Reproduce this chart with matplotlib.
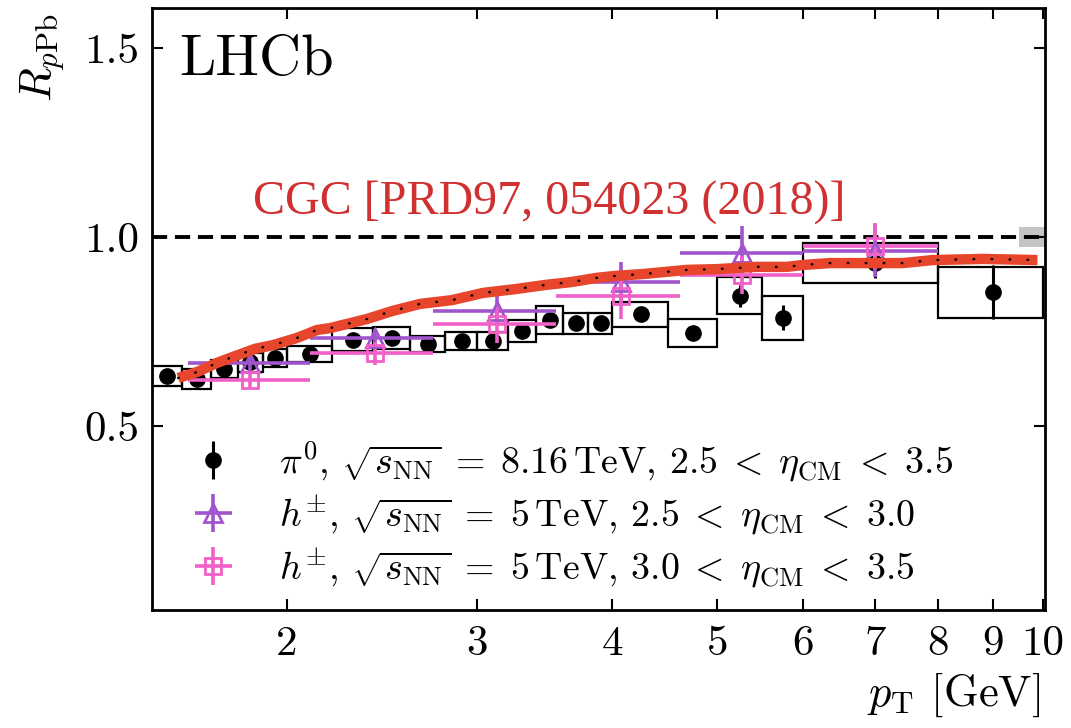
import matplotlib
matplotlib.use("Agg")
import matplotlib.pyplot as plt
from matplotlib.patches import Rectangle
from matplotlib.ticker import FixedLocator, FixedFormatter, NullLocator
import numpy as np

# pi0 nuclear modification factor, sqrt(sNN) = 8.16 TeV, 2.5 < eta_CM < 3.5
pi0_edges = [1.5, 1.6, 1.7, 1.8, 1.9, 2.0, 2.2, 2.4, 2.6, 2.8, 3.0, 3.2,
             3.4, 3.6, 3.8, 4.0, 4.5, 5.0, 5.5, 6.0, 8.0, 10.0]
pi0_pt = [1.55, 1.65, 1.75, 1.85, 1.95, 2.1, 2.3, 2.5, 2.7, 2.9, 3.1, 3.3,
          3.5, 3.7, 3.9, 4.25, 4.75, 5.25, 5.75, 7.0, 9.0]
pi0_r = [0.632, 0.624, 0.651, 0.669, 0.680, 0.690, 0.728, 0.733, 0.717,
         0.725, 0.725, 0.751, 0.780, 0.772, 0.772, 0.796, 0.746, 0.844,
         0.786, 0.931, 0.854]
pi0_stat = [0.008, 0.008, 0.008, 0.008, 0.008, 0.008, 0.008, 0.008, 0.008,
            0.008, 0.008, 0.008, 0.010, 0.010, 0.010, 0.012, 0.014, 0.030,
            0.033, 0.040, 0.072]
pi0_syst = [0.027, 0.027, 0.023, 0.025, 0.023, 0.022, 0.030, 0.029, 0.022,
            0.023, 0.023, 0.029, 0.037, 0.028, 0.028, 0.033, 0.038, 0.049,
            0.058, 0.053, 0.067]

# charged hadrons, sqrt(sNN) = 5 TeV
h_edges = [1.62, 2.10, 2.73, 3.55, 4.62, 6.0, 8.0]
h_pt = [1.85, 2.41, 3.13, 4.07, 5.27, 7.0]
hfwd_r = [0.666, 0.734, 0.805, 0.882, 0.958, 0.964]     # 2.5 < eta < 3.0
hfwd_err = [0.020, 0.022, 0.040, 0.053, 0.070, 0.070]
hbwd_r = [0.622, 0.692, 0.770, 0.844, 0.900, 0.976]     # 3.0 < eta < 3.5
hbwd_err = [0.020, 0.030, 0.050, 0.060, 0.050, 0.060]

# CGC prediction
cgc_pt = [1.586, 1.652, 1.723, 1.783, 1.868, 1.941, 2.043, 2.132, 2.192,
          2.371, 2.501, 2.655, 2.842, 3.035, 3.250, 3.464, 3.668, 3.869,
          4.021, 4.267, 4.453, 4.688, 4.995, 5.213, 5.440, 5.799, 6.000,
          6.356, 7.069, 7.424, 7.912, 8.803, 9.890]
cgc_r = [0.627, 0.643, 0.667, 0.683, 0.704, 0.714, 0.733, 0.754, 0.759,
         0.783, 0.804, 0.823, 0.833, 0.852, 0.862, 0.873, 0.881, 0.892,
         0.897, 0.902, 0.907, 0.913, 0.915, 0.918, 0.921, 0.921, 0.926,
         0.931, 0.931, 0.931, 0.939, 0.942, 0.939]

x_ticks = [2, 3, 4, 5, 6, 7, 8, 9, 10]
x_ticklabels = ["2", "3", "4", "5", "6", "7", "8", "9", "10"]
y_ticks = [0.5, 1.0, 1.5]
y_ticklabels = ["0.5", "1.0", "1.5"]

purple = "#a055cc"
pink = "#f060c8"
cgc_red = "#e8462c"

plt.rcParams["font.family"] = "serif"
plt.rcParams["font.serif"] = ["cmr10"]
plt.rcParams["mathtext.fontset"] = "cm"
plt.rcParams["axes.unicode_minus"] = False
plt.rcParams["axes.formatter.use_mathtext"] = True

fig = plt.figure(figsize=(10.71, 7.28), dpi=100)
ax = fig.add_axes([152 / 1071, 1 - 610 / 728, (1045 - 152) / 1071, (610 - 8) / 728])
ax.set_xscale("log")
ax.set_xlim(1.5, 10.05)
ax.set_ylim(0.013, 1.606)

# unity reference and normalisation uncertainty
ax.axhline(1.0, color="k", lw=2.8, ls=(0, (3.9, 2.0)), zorder=2)
ax.add_patch(Rectangle((9.5, 0.974), 10.05 - 9.5, 0.052, facecolor="#c4c4c4",
                       edgecolor="none", zorder=1))

# systematic boxes for pi0
for lo, hi, r, s in zip(pi0_edges[:-1], pi0_edges[1:], pi0_r, pi0_syst):
    ax.add_patch(Rectangle((lo, r - s), hi - lo, 2 * s, fill=False,
                           edgecolor="k", lw=1.6, zorder=3))

h_pt_a = np.array(h_pt)
h_xerr = [h_pt_a - np.array(h_edges[:-1]), np.array(h_edges[1:]) - h_pt_a]

e_pi0 = ax.errorbar(pi0_pt, pi0_r, yerr=pi0_stat, fmt="o", color="k", ms=11,
                    elinewidth=2.2, capsize=0, zorder=4)
e_fwd = ax.errorbar(h_pt, hfwd_r, xerr=h_xerr, yerr=hfwd_err, fmt="^",
                    mfc="none", mec=purple, mew=2, ms=13, ecolor=purple,
                    elinewidth=2.6, capsize=0, zorder=5)
e_bwd = ax.errorbar(h_pt, hbwd_r, xerr=h_xerr, yerr=hbwd_err, fmt="s",
                    mfc="none", mec=pink, mew=2, ms=11, ecolor=pink,
                    elinewidth=2.6, capsize=0, zorder=5)

ax.plot(cgc_pt, cgc_r, color=cgc_red, lw=7.5, solid_capstyle="butt",
        solid_joinstyle="round", zorder=6)
ax.plot(cgc_pt, cgc_r, color="k", lw=1.8, ls=(0, (0.2, 7)),
        dash_capstyle="round", zorder=7)

ax.xaxis.set_major_locator(FixedLocator(x_ticks))
ax.xaxis.set_major_formatter(FixedFormatter(x_ticklabels))
ax.xaxis.set_minor_locator(NullLocator())
ax.yaxis.set_major_locator(FixedLocator(y_ticks))
ax.yaxis.set_major_formatter(FixedFormatter(y_ticklabels))
ax.yaxis.set_minor_locator(NullLocator())
ax.tick_params(direction="in", top=True, right=True, length=8, width=1.5,
               labelsize=31)
ax.tick_params(axis="x", pad=11)
ax.tick_params(axis="y", pad=9)
for sp in ax.spines.values():
    sp.set_linewidth(2)

ax.text(0.031, 0.889, "LHCb", transform=ax.transAxes, fontsize=42,
        va="baseline", ha="left")
ax.text(0.113, 0.656, "CGC [PRD97, 054023 (2018)]", transform=ax.transAxes,
        fontsize=34.6, va="baseline", ha="left", color="#d03030",
        family="Liberation Serif")

fig.text(43 / 1071, 1 - 58 / 728, r"$R_{p\mathrm{Pb}}$", rotation=90,
         ha="center", va="center", fontsize=32)
fig.text(1040 / 1071, 1 - 695 / 728, r"$p_{\mathrm{T}}$ [GeV]",
         ha="right", va="center", fontsize=32)

labels = [r"$\pi^0$, $\sqrt{s_{\mathrm{NN}}}\;=\;8.16\,\mathrm{TeV}$, $2.5\;<\;\eta_{\mathrm{CM}}\;<\;3.5$",
          r"$h^{\pm}$, $\sqrt{s_{\mathrm{NN}}}\;=\;5\,\mathrm{TeV}$, $2.5\;<\;\eta_{\mathrm{CM}}\;<\;3.0$",
          r"$h^{\pm}$, $\sqrt{s_{\mathrm{NN}}}\;=\;5\,\mathrm{TeV}$, $3.0\;<\;\eta_{\mathrm{CM}}\;<\;3.5$"]
ax.legend([e_pi0, e_fwd, e_bwd], labels, loc="upper left",
          bbox_to_anchor=((186 - 152) / 893, (610 - 439) / 602),
          frameon=False, fontsize=27.3, handlelength=1.45, handletextpad=1.0,
          labelspacing=0.22, borderaxespad=0, borderpad=0)

fig.savefig("out.png", dpi=100)
